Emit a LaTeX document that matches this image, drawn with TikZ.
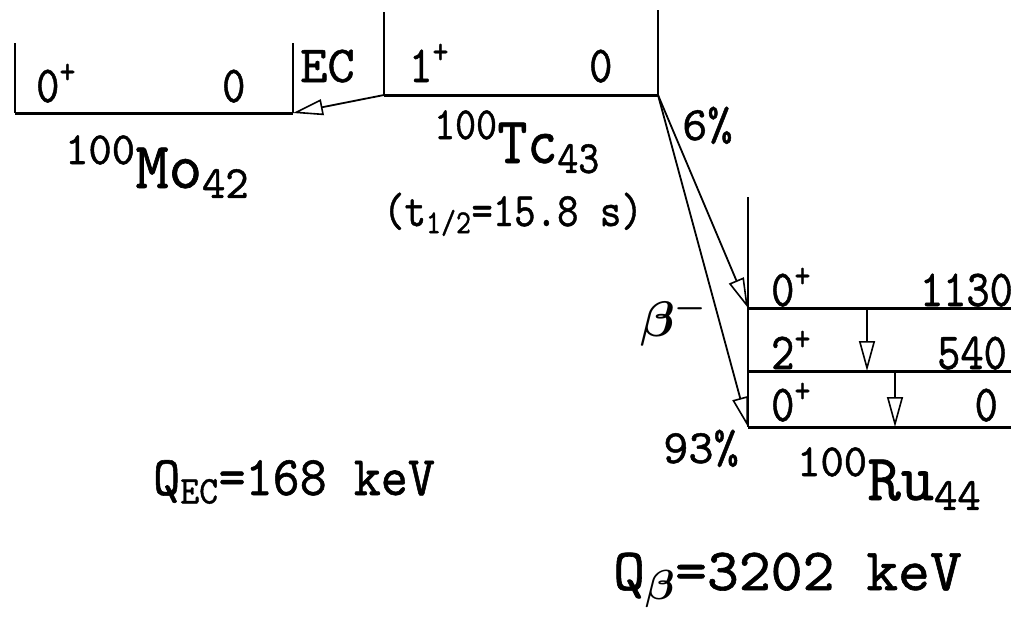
\RequirePackage{fix-cm}
\documentclass[tikz,border=0pt]{standalone}
\usepackage{fontspec}
\newfontfamily\dfont{lmmono10-regular.otf}[FakeBold=1]
\usetikzlibrary{arrows.meta}

\begin{document}
\begin{tikzpicture}[
  x=1pt, y=-1pt,
  every node/.style={font=\dfont\fontsize{52}{58}\selectfont, inner sep=0pt, anchor=base west},
  spin/.style={xscale=0.85},
  level/.style={line width=3pt},
  wall/.style={line width=2pt},
  decay/.style={-{Triangle[open, length=30pt, width=16pt, line width=1.6pt]}, line width=1.8pt},
  nuclide/.style={font=\dfont\fontsize{66}{72}\selectfont, xscale=0.96},
  small/.style={font=\dfont\fontsize{48}{54}\selectfont},
  qval/.style={font=\dfont\fontsize{56}{62}\selectfont, xscale=0.92}
]
\useasboundingbox (0,0) rectangle (1011,625);

% level ends
\coordinate (moL) at (15,113);
\coordinate (moR) at (293,113);
\coordinate (tcL) at (384,95);
\coordinate (tcR) at (658,95);
\coordinate (ru2L) at (748,308);
\coordinate (ru1L) at (748,371);
\coordinate (ru0L) at (748,427);

% 100Mo
\draw[wall] (15,43) -- (moL);
\draw[wall] (293,43) -- (moR);
\draw[level] (moL) -- (moR);
\node[spin] (moJ) at (36,102) {0\textsuperscript{+}};
\node[spin] (moE) at (222,102) {0};
\node (ec) at (300,82) {EC};
\node[nuclide] (mo) at (65,188) {\textsuperscript{100}Mo\textsubscript{42}};

% 100Tc
\draw[wall] (384,12) -- (tcL);
\draw[wall] (658,10) -- (tcR);
\draw[level] (tcL) -- (tcR);
\node[spin] (tcJ) at (409,82) {1\textsuperscript{+}};
\node[spin] (tcE) at (589,82) {0};
\node[nuclide, xscale=0.9] (tc) at (434,163) {\textsuperscript{100}Tc\textsubscript{43}};
\node[small, xscale=0.85] (half) at (383,226) {(t\textsubscript{1/2}=15.8 s)};

% 100Ru
\draw[wall] (748,197) -- (ru0L);
\draw[level] (ru2L) -- (1011,308);
\draw[level] (ru1L) -- (1011,371);
\draw[level] (ru0L) -- (1011,427);
\node[spin] (ru2J) at (771,306) {0\textsuperscript{+}};
\node[spin, anchor=base east] (ru2E) at (1013,306) {1130};
\node[spin] (ru1J) at (771,369) {2\textsuperscript{+}};
\node[spin, anchor=base east] (ru1E) at (1007,369) {540};
\node[spin] (ru0J) at (771,421) {0\textsuperscript{+}};
\node[spin, anchor=base east] (ru0E) at (998,421) {0};
\node[nuclide] (ru) at (797,500) {\textsuperscript{100}Ru\textsubscript{44}};

% transitions
\coordinate (g1a) at (867,308);
\coordinate (g1b) at (867,371);
\coordinate (g2a) at (895,371);
\coordinate (g2b) at (895,427);
\draw[decay] (tcL) -- (moR);
\draw[decay] (tcR) -- (ru2L);
\draw[decay] (tcR) -- (ru0L);
\draw[decay] (g1a) -- (g1b);
\draw[decay] (g2a) -- (g2b);
\node[small] (p6) at (682,140) {6\%};
\node[small] (p93) at (663,463) {93\%};
\node[font=\fontsize{50}{56}\selectfont\boldmath] (beta) at (640,336) {$\beta^-$};

% Q values
\node[qval] (qec) at (153,495) {Q\textsubscript{EC}=168 keV};
\node[qval, xscale=1.1, font=\dfont\fontsize{60}{66}\selectfont] (qb) at (613,590) {Q\textsubscript{\boldmath$\beta$}=3202 keV};
\end{tikzpicture}
\end{document}
